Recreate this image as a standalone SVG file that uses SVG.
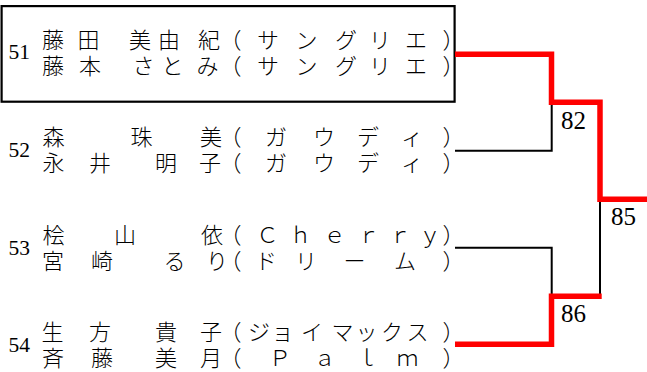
<svg xmlns="http://www.w3.org/2000/svg" width="647" height="372" viewBox="0 0 647 372">
<style>
.nm{font-family:"Noto Sans CJK JP","Liberation Serif",sans-serif;font-size:22px;font-weight:300;fill:#000;text-anchor:middle}
.sd{font-family:"Liberation Serif",serif;font-size:21.5px;fill:#000}
.sc{font-family:"Liberation Serif",serif;font-size:25px;fill:#000}
.lose{fill:none;stroke:#000;stroke-width:2}
.win{fill:none;stroke:#FF0000;stroke-width:5.5;stroke-linejoin:miter;stroke-linecap:butt}
.box{fill:none;stroke:#000;stroke-width:2.2}
</style>
<rect width="647" height="372" fill="#fff"/>
<g id="entry51">
<rect class="box" x="1.6" y="6.1" width="453" height="95.6"/>
<text class="sd" x="8.5" y="59">51</text>
<text class="nm" x="53 88.5 140 169 209 230.5 268 306.5 346 380 416 453.5" y="47.5">藤田美由紀（サングリエ）</text>
<text class="nm" x="53 90 143.5 172.5 207.5 230.5 268 306.5 346 380 416 453.5" y="73.5">藤本さとみ（サングリエ）</text>
</g>
<g id="entry52">
<text class="sd" x="8.5" y="156.5">52</text>
<text class="nm" x="53.5 141.5 211 230.5 276 324 368 412 453.5" y="145">森珠美（ガウディ）</text>
<text class="nm" x="53.5 100 166 210 230.5 276 324 368 412 453.5" y="171">永井明子（ガウディ）</text>
</g>
<g id="entry53">
<text class="sd" x="8.5" y="255">53</text>
<text class="nm" x="53.5 125 212 230.5 267.5 300.5 334.5 368.5 400 430 453.5" y="242.5">桧山依（Ｃｈｅｒｒｙ）</text>
<text class="nm" x="53 102 174.5 217 230.5 266 306 354.5 405 453.5" y="268.5">宮崎るり（ドリーム）</text>
</g>
<g id="entry54">
<text class="sd" x="8.5" y="352">54</text>
<text class="nm" x="52.5 100 166 211 230.5 259 282.5 312 342.5 366.5 392 417.5 453.5" y="340">生方貴子（ジョイマックス）</text>
<text class="nm" x="53 102 166 211 230.5 280 324.5 367 407.5 453.5" y="366">斉藤美月（Ｐａｌｍ）</text>
</g>
<g id="connectors">
<polyline class="lose" points="455,150.7 551.7,150.7 551.7,102"/>
<polyline class="lose" points="455,247.8 551.7,247.8 551.7,296"/>
<polyline class="lose" points="600,199 600,296"/>
<polyline class="win" points="455,54.3 551.5,54.3 551.5,102.3 600,102.3 600,199.3 647,199.3"/>
<polyline class="win" points="455,344.2 551.5,344.2 551.5,296.3 601.7,296.3"/>
</g>
<g id="match82"><text class="sc" x="561" y="129">82</text></g>
<g id="match85"><text class="sc" x="611" y="225">85</text></g>
<g id="match86"><text class="sc" x="561" y="322">86</text></g>
</svg>
